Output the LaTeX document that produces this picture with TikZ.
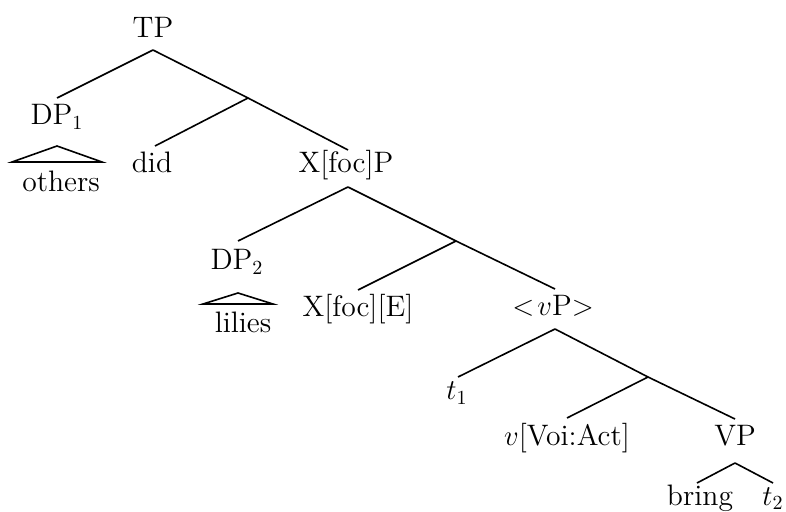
\documentclass[tikz,border=0pt]{standalone}
\begin{document}
\begin{tikzpicture}[x=0.5pt,y=-0.5pt,
  lbl/.style={anchor=base,inner sep=0pt,font=\fontsize{14.8}{17}\selectfont},
  br/.style={line width=0.8pt}]
\useasboundingbox (0,0) rectangle (786,512);
% labels
\node[lbl] (TP) at (153,38) {TP};
\node[lbl] (DP1) at (57,125) {DP$_1$};
\node[lbl] (others) at (61,192) {others};
\node[lbl] (did) at (152,173) {did};
\node[lbl] (XP) at (346,173) {X[foc]P};
\node[lbl] (DP2) at (237,270) {DP$_2$};
\node[lbl] (lilies) at (243,333) {lilies};
\node[lbl] (XE) at (358,317) {X[foc][E]};
\node[lbl] (vP) at (553,316) {$<\!v$P$>$};
\node[lbl] (t1) at (457,400) {$t_1$};
\node[lbl] (vV) at (567,445) {$v$[Voi:Act]};
\node[lbl] (VP) at (735,445) {VP};
\node[lbl] (bring) at (700,505) {bring};
\node[lbl] (t2) at (773,505) {$t_2$};
% attachment points
\coordinate (TPa) at (153,50);
\coordinate (DP1t) at (57,98);
\coordinate (Tbar) at (248,98);
\coordinate (didt) at (155,146);
\coordinate (XPt) at (348,150);
\coordinate (XPa) at (348,187);
\coordinate (DP2t) at (238,241);
\coordinate (Xbar) at (456,241);
\coordinate (XEt) at (358,290);
\coordinate (vPt) at (555,289);
\coordinate (vPa) at (555,329);
\coordinate (t1t) at (458,377);
\coordinate (vbar) at (648,377);
\coordinate (vVt) at (567,418);
\coordinate (VPt) at (735,419);
\coordinate (VPa) at (735,463);
\coordinate (bringt) at (697,483);
\coordinate (t2t) at (773,483);
% branches
\draw[br] (TPa) -- (DP1t);
\draw[br] (TPa) -- (Tbar) -- (XPt);
\draw[br] (Tbar) -- (didt);
\draw[br] (XPa) -- (DP2t);
\draw[br] (XPa) -- (Xbar) -- (vPt);
\draw[br] (Xbar) -- (XEt);
\draw[br] (vPa) -- (t1t);
\draw[br] (vPa) -- (vbar) -- (VPt);
\draw[br] (vbar) -- (vVt);
\draw[br] (VPa) -- (bringt);
\draw[br] (VPa) -- (t2t);
% triangles
\draw[br] (12,162) -- (57,146) -- (102,162) -- cycle;
\draw[br] (203,304) -- (238,293) -- (273,304) -- cycle;
\end{tikzpicture}
\end{document}
